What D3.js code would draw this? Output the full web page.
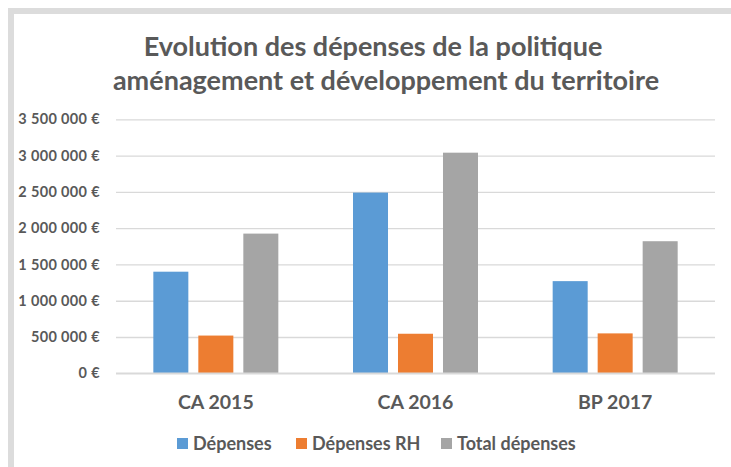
<!DOCTYPE html>
<html><head><meta charset="utf-8">
<script src="https://cdn.jsdelivr.net/npm/d3@7"></script>
<style>html,body{margin:0;padding:0;background:#fff;}svg{display:block;}</style>
</head><body>
<script>
const categories = ["CA 2015", "CA 2016", "BP 2017"];
const seriesNames = ["Dépenses", "Dépenses RH", "Total dépenses"];
const depenses = [1400000, 2490000, 1270000];
const depensesRH = [520000, 545000, 550000];
const totalDepenses = [1925000, 3040000, 1820000];
const yTicks = [0, 500000, 1000000, 1500000, 2000000, 2500000, 3000000, 3500000];
const titleLines = ["Evolution des dépenses de la politique", "aménagement et développement du territoire"];
const colors = ["#5B9BD5", "#ED7D31", "#A5A5A5"];

(function () {
const W = 731, H = 467;
const svg = d3.select("body").append("svg").attr("width", W).attr("height", H);
const font = "Lato, 'Open Sans', sans-serif";
const txt = "#595959";

// frame
svg.append("rect").attr("x", 8).attr("y", 8).attr("width", W - 8).attr("height", 6).attr("fill", "#dcdcdc");
svg.append("rect").attr("x", 8).attr("y", 8).attr("width", 6).attr("height", H - 8).attr("fill", "#dcdcdc");

// title
svg.append("g").selectAll("text").data(titleLines).join("text")
  .attr("x", (d, i) => [373, 386][i]).attr("y", (d, i) => 56 + i * 34)
  .attr("text-anchor", "middle")
  .attr("font-family", font).attr("font-weight", "bold").attr("font-size", 27)
  .attr("fill", txt).text(d => d);

const pl = 116, pr = 715, pt = 119.3, pb = 373.3;
const y = d3.scaleLinear().domain([0, 3500000]).range([pb, pt]);
const x0 = d3.scaleBand().domain(categories).range([pl, pr]).padding(0);
const x1 = d3.scaleBand().domain(seriesNames).range([0, 125]).paddingInner(0.222).paddingOuter(0);
const off = (x0.bandwidth() - 125) / 2;

// gridlines
const fmt = v => (v === 0 ? "0" : d3.format(",")(v).replace(/,/g, " ")) + " €";
const yAxis = d3.axisLeft(y).tickValues(yTicks).tickSize(-(pr - pl)).tickFormat(fmt).tickPadding(16);
const gy = svg.append("g").attr("transform", `translate(${pl},0)`).call(yAxis);
gy.select(".domain").remove();
gy.selectAll(".tick line").attr("stroke", "#d9d9d9").attr("stroke-width", 1.3);
gy.selectAll(".tick text").attr("font-family", font).attr("font-weight", "bold")
  .attr("font-size", 14.5).attr("letter-spacing", "0.35px").attr("fill", txt);

// bars
const data = [depenses, depensesRH, totalDepenses];
const rows = categories.map((c, i) => ({ c, vals: seriesNames.map((s, j) => ({ s, j, v: data[j][i] })) }));
svg.append("g").selectAll("g").data(rows).join("g")
  .attr("transform", d => `translate(${x0(d.c) + off},0)`)
  .selectAll("rect").data(d => d.vals).join("rect")
  .attr("x", d => x1(d.s)).attr("width", x1.bandwidth())
  .attr("y", d => y(d.v)).attr("height", d => y(0) - y(d.v))
  .attr("fill", d => colors[d.j]);

// baseline
svg.append("line").attr("x1", pl).attr("x2", pr).attr("y1", y(0)).attr("y2", y(0))
  .attr("stroke", "#d9d9d9").attr("stroke-width", 1.5);

// x axis labels
const xAxis = d3.axisBottom(x0).tickSize(0).tickPadding(22);
const gx = svg.append("g").attr("transform", `translate(0,${pb})`).call(xAxis);
gx.select(".domain").remove();
gx.selectAll(".tick text").attr("font-family", font).attr("font-weight", "bold")
  .attr("font-size", 19.5).attr("fill", txt);

// legend
const legX = [177, 296, 441];
const lg = svg.append("g").selectAll("g").data(seriesNames).join("g")
  .attr("transform", (d, i) => `translate(${legX[i]},443.5)`);
lg.append("rect").attr("x", 0).attr("y", -5.5).attr("width", 11).attr("height", 11).attr("fill", (d, i) => colors[i]);
lg.append("text").attr("x", 16).attr("y", 0).attr("dy", "0.35em")
  .attr("font-family", font).attr("font-weight", "bold").attr("font-size", 18)
  .attr("fill", txt).text(d => d);
})();
</script>
</body></html>
